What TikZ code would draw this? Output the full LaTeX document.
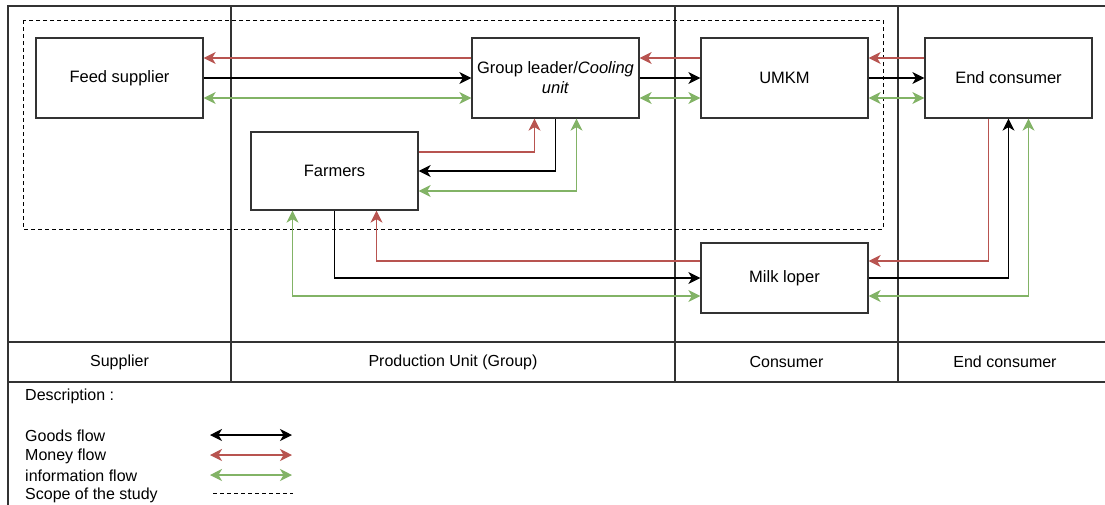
\documentclass[tikz,border=0pt]{standalone}
\usepackage{fontspec}
\setmainfont{Liberation Sans}
\usetikzlibrary{arrows.meta}
\definecolor{moneyc}{HTML}{B85450}
\definecolor{infoc}{HTML}{82B366}
\definecolor{framec}{HTML}{333333}
\tikzset{
  box/.style={draw=framec, line width=1.3pt, minimum width=167pt, minimum height=80pt, inner sep=2pt, align=center, font=\fontsize{16.5}{20}\selectfont},
  >={Stealth[length=12pt,width=12pt,inset=3.5pt]},
  flowtip/.style={->},
  bothtip/.style={<->},
  goods/.style={draw=black, line width=1.2pt},
  money/.style={draw=moneyc, line width=1.2pt},
  info/.style={draw=infoc, line width=1.2pt},
  scope/.style={draw=black, line width=1pt, dash pattern=on 4pt off 3pt},
  lane/.style={draw=framec, line width=1.3pt},
  lbl/.style={font=\fontsize{16}{19}\selectfont, inner sep=0pt},
  leg/.style={font=\fontsize{16}{19}\selectfont, inner sep=0pt, anchor=west}
}
\begin{document}
\begin{tikzpicture}[x=1pt,y=-1pt]
\useasboundingbox (0,0) rectangle (1105,504);
\fill[white] (0,0) rectangle (1105,504);
% swimlane frame
\draw[lane] (8,6) rectangle (1112,520);
\draw[lane] (8,342) -- (1112,342);
\draw[lane] (8,382) -- (1112,382);
\draw[lane] (231,6) -- (231,382);
\draw[lane] (675,6) -- (675,382);
\draw[lane] (898,6) -- (898,382);
\node[lbl] (l1) at (119.5,362) {Supplier};
\node[lbl] (l2) at (453,362) {Production Unit (Group)};
\node[lbl] (l3) at (786.5,362) {Consumer};
\node[lbl] (l4) at (1005,362) {End consumer};
% scope
\draw[scope] (23,20) rectangle (883,229);
% boxes
\node[box] (fs) at (119.5,78) {Feed supplier};
\node[box] (gl) at (555.5,78) {Group leader/\textit{Cooling}\\\textit{unit}};
\node[box] (um) at (784.5,78) {UMKM};
\node[box] (ec) at (1008.5,78) {End consumer};
\node[box, minimum height=78pt] (fa) at (334.5,171) {Farmers};
\node[box, minimum height=70pt] (ml) at (784.5,278) {Milk loper};
% feed supplier - group leader
\draw[money,flowtip] ([yshift=20pt]gl.west) -- ([yshift=20pt]fs.east);
\draw[goods,flowtip] (fs.east) -- (gl.west);
\draw[info,bothtip] ([yshift=-20pt]fs.east) -- ([yshift=-20pt]gl.west);
% group leader - UMKM
\draw[money,flowtip] ([yshift=20pt]um.west) -- ([yshift=20pt]gl.east);
\draw[goods,flowtip] (gl.east) -- (um.west);
\draw[info,bothtip] ([yshift=-20pt]gl.east) -- ([yshift=-20pt]um.west);
% UMKM - end consumer
\draw[money,flowtip] ([yshift=20pt]ec.west) -- ([yshift=20pt]um.east);
\draw[goods,flowtip] (um.east) -- (ec.west);
\draw[info,bothtip] ([yshift=-20pt]um.east) -- ([yshift=-20pt]ec.west);
% farmers - group leader
\draw[money,flowtip] ([yshift=19pt]fa.east) -| ([xshift=-21pt]gl.south);
\draw[goods,flowtip] (gl.south) |- (fa.east);
\draw[info,bothtip] ([xshift=21pt]gl.south) |- ([yshift=-20pt]fa.east);
% farmers - milk loper
\draw[info,bothtip] ([xshift=-42pt]fa.south) |- ([yshift=-18pt]ml.west);
\draw[goods,flowtip] (fa.south) |- (ml.west);
\draw[money,flowtip] ([yshift=17pt]ml.west) -| ([xshift=42pt]fa.south);
% milk loper - end consumer
\draw[money,flowtip] ([xshift=-20pt]ec.south) |- ([yshift=17pt]ml.east);
\draw[goods,flowtip] (ml.east) -| (ec.south);
\draw[info,bothtip] ([yshift=-18pt]ml.east) -| ([xshift=20pt]ec.south);
% legend
\node[leg] (d0) at (25,396) {Description :};
\node[leg] (d1) at (25,436) {Goods flow};
\node[leg] (d2) at (25,456) {Money flow};
\node[leg] (d3) at (25,476) {information flow};
\node[leg] (d4) at (25,495) {Scope of the study};
\coordinate (g1) at (210,435); \coordinate (g2) at (292,435);
\coordinate (m1) at (210,455); \coordinate (m2) at (292,455);
\coordinate (i1) at (210,475); \coordinate (i2) at (292,475);
\coordinate (s1) at (213,493); \coordinate (s2) at (293,493);
\draw[goods,bothtip] (g1) -- (g2);
\draw[money,bothtip] (m1) -- (m2);
\draw[info,bothtip] (i1) -- (i2);
\draw[scope] (s1) -- (s2);
\end{tikzpicture}
\end{document}
